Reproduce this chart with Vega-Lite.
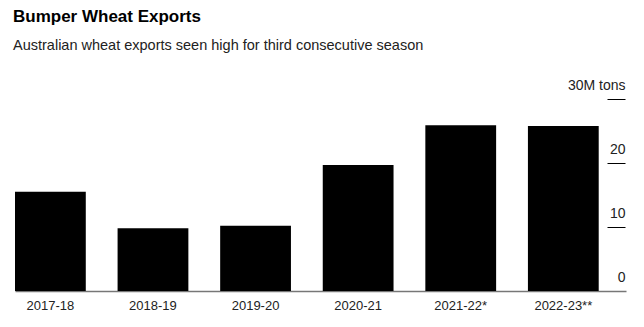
{
  "$schema": "https://vega.github.io/schema/vega-lite/v6.json",
  "width": 611,
  "height": 192,
  "autosize": "none",
  "padding": {"left": 15, "top": 99, "right": 18, "bottom": 36},
  "background": "white",
  "config": {"view": {"stroke": null}, "font": "Liberation Sans"},
  "title": {
    "text": "Bumper Wheat Exports",
    "subtitle": "Australian wheat exports seen high for third consecutive season",
    "anchor": "start",
    "frame": "group",
    "dx": -2,
    "offset": 25,
    "font": "Liberation Sans",
    "fontSize": 17,
    "fontWeight": "bold",
    "color": "#000",
    "subtitleFont": "Liberation Sans",
    "subtitleFontSize": 14.5,
    "subtitleColor": "#222",
    "subtitlePadding": 13
  },
  "data": {
    "values": [
      {"season": "2017-18", "exports": 15.5},
      {"season": "2018-19", "exports": 9.8},
      {"season": "2019-20", "exports": 10.2},
      {"season": "2020-21", "exports": 19.7},
      {"season": "2021-22*", "exports": 25.9},
      {"season": "2022-23**", "exports": 25.8}
    ]
  },
  "mark": {"type": "bar", "color": "#000"},
  "encoding": {
    "x": {
      "field": "season",
      "type": "nominal",
      "sort": null,
      "title": null,
      "scale": {"paddingInner": 0.31, "paddingOuter": 0.133, "align": 0},
      "axis": {
        "labelAngle": 0,
        "ticks": false,
        "domainColor": "#777",
        "domainWidth": 1.5,
        "labelFontSize": 13,
        "labelColor": "#222",
        "labelPadding": 8
      }
    },
    "y": {
      "field": "exports",
      "type": "quantitative",
      "title": null,
      "scale": {"domain": [0, 30], "nice": false},
      "axis": {
        "orient": "right",
        "values": [0, 10, 20, 30],
        "grid": false,
        "domain": false,
        "offset": -19,
        "tickSize": 18,
        "tickWidth": 1,
        "tickColor": {"condition": {"test": "datum.value === 0", "value": "transparent"}, "value": "#000"},
        "labelAlign": "right",
        "labelBaseline": "middle",
        "labelPadding": 0,
        "labelOffset": -14,
        "labelFontSize": 14,
        "labelColor": "#222",
        "labelExpr": "datum.value === 30 ? '30M tons' : datum.label"
      }
    }
  }
}
